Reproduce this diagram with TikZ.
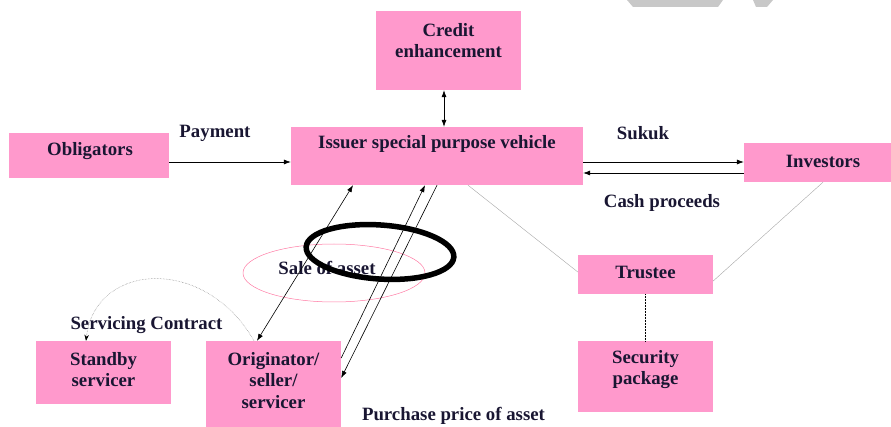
\documentclass[tikz,border=0pt]{standalone}
\usepackage{fontspec}
\setmainfont{Liberation Serif}
\usetikzlibrary{calc,arrows.meta}
\definecolor{boxpink}{RGB}{255,153,204}
\definecolor{inkblue}{RGB}{25,22,50}
\definecolor{markgray}{RGB}{200,200,200}

\begin{document}
\begin{tikzpicture}[x=1pt,y=-1pt,font=\fontsize{18.8}{21.5}\selectfont\bfseries,
  box/.style={fill=boxpink,draw=none,inner sep=0pt},
  txt/.style={text=inkblue,align=center,inner sep=0pt},
  flow/.style={-{Latex[length=7pt,width=5pt]},line width=.6pt},
  dflow/.style={{Latex[length=7pt,width=5pt]}-{Latex[length=7pt,width=5pt]},line width=.6pt},
  thinline/.style={gray!70,line width=.4pt}]

\useasboundingbox (0,0) rectangle (891,427);

\fill[markgray] (627,0) -- (723,0) -- (718,7) -- (633,7) -- cycle;
\fill[markgray] (753,0) -- (773,0) -- (767,7) -- (756,7) -- cycle;

% boxes
\node[box,minimum width=145,minimum height=79] (cred) at (448.5,50.5) {};
\node[box,minimum width=160,minimum height=45] (oblig) at (89,155.5) {};
\node[box,minimum width=292,minimum height=58] (spv) at (437,156) {};
\node[box,minimum width=147,minimum height=39] (inv) at (817.5,162.5) {};
\node[box,minimum width=135,minimum height=39] (trust) at (645.5,274.5) {};
\node[box,minimum width=135,minimum height=71] (secur) at (645.5,376.5) {};
\node[box,minimum width=135,minimum height=63] (stand) at (103.5,372.5) {};
\node[box,minimum width=135,minimum height=86] (orig) at (273.5,384) {};

\node[txt] (credt) at (448.5,40.5) {Credit\\enhancement};
\node[txt] (obligt) at (90,151) {Obligators};
\node[txt] (spvt) at (437,144) {Issuer special purpose vehicle};
\node[txt] (invt) at (823,161) {Investors};
\node[txt] (trustt) at (645.5,272) {Trustee};
\node[txt] (securt) at (645.5,369.5) {Security\\package};
\node[txt] (standt) at (103.5,369.5) {Standby\\servicer};
\node[txt] (origt) at (273.5,380.5) {Originator/\\seller/\\servicer};

% labels
\node[txt] (pay) at (215,133) {Payment};
\node[txt] (sukuk) at (643,133) {Sukuk};
\node[txt] (cash) at (662,203) {Cash proceeds};
\node[txt] (servc) at (146.5,325) {Servicing Contract};
\node[txt] (price) at (453.5,416) {Purchase price of asset};

\draw[boxpink!80!red,line width=.5pt] (334,273) ellipse [x radius=91,y radius=29];
\node[txt] (sale) at (327,268) {Sale of asset};

% connectors
\coordinate (credarrow) at (444,0);
\draw[dflow] (cred.south -| credarrow) -- (spv.north -| credarrow);
\draw[flow] (oblig.east |- 0,162) -- (spv.west |- 0,162);
\draw[flow] (spv.east |- 0,162) -- (inv.west |- 0,162);
\draw[flow] (inv.west |- 0,173) -- (spv.east |- 0,173);
\draw[dflow] (orig.north -| 257,0) -- (spv.south -| 353,0);
\draw[flow] (orig.east |- 0,358) -- (spv.south -| 425,0);
\draw[flow] (spv.south -| 437,0) -- (orig.east |- 0,378);

\draw[thinline] (spv.south -| 468,0) -- (trust.west |- 0,272);
\draw[thinline] (inv.south -| 823,0) -- (trust.east |- 0,281);
\draw[densely dotted,line width=.5pt] (trust.south) -- (secur.north);

\draw[gray,densely dotted,line width=.5pt,-{Stealth[length=6pt,width=4.5pt,black]}]
  (orig.north -| 254,0) .. controls (205,255) and (95,262) .. (stand.north -| 86,0);

\draw[line width=5.5pt,rotate around={-4:(380,252)}] (380,252) ellipse [x radius=74,y radius=27];

\end{tikzpicture}
\end{document}
